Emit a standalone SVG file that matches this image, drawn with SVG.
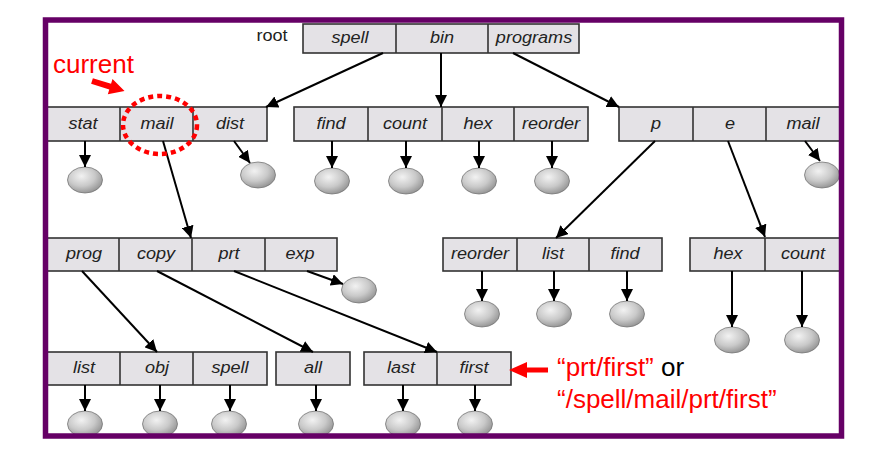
<svg xmlns="http://www.w3.org/2000/svg" width="876" height="453" viewBox="0 0 876 453">
  <defs>
    <radialGradient id="ball" cx="40%" cy="35%" r="70%">
      <stop offset="0" stop-color="#f2f2f2"/>
      <stop offset="0.55" stop-color="#c9c9c9"/>
      <stop offset="1" stop-color="#8f8f8f"/>
    </radialGradient>
    <marker id="ah" markerUnits="userSpaceOnUse" markerWidth="12" markerHeight="12" viewBox="0 0 12 12" refX="12" refY="6" orient="auto">
      <path d="M0,0 L12,6 L0,12 Z" fill="#000"/>
    </marker>
  </defs>
  <style>
    .box { fill: #e4e2e6; stroke: #333; stroke-width: 1.6; }
    .div { stroke: #333; stroke-width: 1.6; }
    .lbl { font-family: "Liberation Sans", Arial, sans-serif; font-size: 16px; font-style: italic; fill: #222; text-anchor: middle; }
    .root { font-family: "Liberation Sans", Arial, sans-serif; font-size: 16px; fill: #222; text-anchor: middle; }
    .file { fill: url(#ball); stroke: #777; stroke-width: 0.8; }
    .edge { stroke: #000; stroke-width: 2; fill: none; marker-end: url(#ah); }
    .note { font-family: "Liberation Sans", Arial, sans-serif; font-size: 26px; fill: #ff0000; }
  </style>

  <rect x="0" y="0" width="876" height="453" fill="#fff"/>

  <!-- root directory -->
  <g id="root">
    <text class="root" transform="translate(272,41) scale(1.13,1)">root</text>
    <rect class="box" x="303" y="24" width="276" height="29"/>
    <line class="div" x1="396" y1="24" x2="396" y2="53"/>
    <line class="div" x1="488" y1="24" x2="488" y2="53"/>
    <text class="lbl" transform="translate(350,43) scale(1.13,1)">spell</text>
    <text class="lbl" transform="translate(442,43) scale(1.13,1)">bin</text>
    <text class="lbl" transform="translate(534,43) scale(1.13,1)">programs</text>
  </g>

  <!-- /spell -->
  <g id="dir-spell">
    <rect class="box" x="46" y="107" width="221" height="34"/>
    <line class="div" x1="120" y1="107" x2="120" y2="141"/>
    <line class="div" x1="193" y1="107" x2="193" y2="141"/>
    <text class="lbl" transform="translate(83,129) scale(1.13,1)">stat</text>
    <text class="lbl" transform="translate(157,129) scale(1.13,1)">mail</text>
    <text class="lbl" transform="translate(230,129) scale(1.13,1)">dist</text>
  </g>

  <!-- /bin -->
  <g id="dir-bin">
    <rect class="box" x="294" y="107" width="294" height="34"/>
    <line class="div" x1="368" y1="107" x2="368" y2="141"/>
    <line class="div" x1="442" y1="107" x2="442" y2="141"/>
    <line class="div" x1="514" y1="107" x2="514" y2="141"/>
    <text class="lbl" transform="translate(331,129) scale(1.13,1)">find</text>
    <text class="lbl" transform="translate(405,129) scale(1.13,1)">count</text>
    <text class="lbl" transform="translate(478,129) scale(1.13,1)">hex</text>
    <text class="lbl" transform="translate(551,129) scale(1.13,1)">reorder</text>
  </g>

  <!-- /programs -->
  <g id="dir-programs">
    <rect class="box" x="619" y="107" width="223" height="34"/>
    <line class="div" x1="693" y1="107" x2="693" y2="141"/>
    <line class="div" x1="766" y1="107" x2="766" y2="141"/>
    <text class="lbl" transform="translate(656,129) scale(1.13,1)">p</text>
    <text class="lbl" transform="translate(730,129) scale(1.13,1)">e</text>
    <text class="lbl" transform="translate(803,129) scale(1.13,1)">mail</text>
  </g>

  <!-- /spell/mail -->
  <g id="dir-mail">
    <rect class="box" x="47" y="238" width="290" height="33"/>
    <line class="div" x1="119" y1="238" x2="119" y2="271"/>
    <line class="div" x1="192" y1="238" x2="192" y2="271"/>
    <line class="div" x1="265" y1="238" x2="265" y2="271"/>
    <text class="lbl" transform="translate(84,259) scale(1.13,1)">prog</text>
    <text class="lbl" transform="translate(156,259) scale(1.13,1)">copy</text>
    <text class="lbl" transform="translate(229,259) scale(1.13,1)">prt</text>
    <text class="lbl" transform="translate(300,259) scale(1.13,1)">exp</text>
  </g>

  <!-- /programs/p -->
  <g id="dir-p">
    <rect class="box" x="443" y="238" width="219" height="33"/>
    <line class="div" x1="517" y1="238" x2="517" y2="271"/>
    <line class="div" x1="589" y1="238" x2="589" y2="271"/>
    <text class="lbl" transform="translate(480,259) scale(1.13,1)">reorder</text>
    <text class="lbl" transform="translate(553,259) scale(1.13,1)">list</text>
    <text class="lbl" transform="translate(625,259) scale(1.13,1)">find</text>
  </g>

  <!-- /programs/e -->
  <g id="dir-e">
    <rect class="box" x="690" y="238" width="152" height="33"/>
    <line class="div" x1="765" y1="238" x2="765" y2="271"/>
    <text class="lbl" transform="translate(728,259) scale(1.13,1)">hex</text>
    <text class="lbl" transform="translate(803,259) scale(1.13,1)">count</text>
  </g>

  <!-- /spell/mail/prog -->
  <g id="dir-prog">
    <rect class="box" x="47" y="352" width="220" height="33"/>
    <line class="div" x1="120" y1="352" x2="120" y2="385"/>
    <line class="div" x1="193" y1="352" x2="193" y2="385"/>
    <text class="lbl" transform="translate(84,373) scale(1.13,1)">list</text>
    <text class="lbl" transform="translate(157,373) scale(1.13,1)">obj</text>
    <text class="lbl" transform="translate(230,373) scale(1.13,1)">spell</text>
  </g>

  <!-- /spell/mail/copy -->
  <g id="dir-copy">
    <rect class="box" x="276" y="352" width="74" height="33"/>
    <text class="lbl" transform="translate(313,373) scale(1.13,1)">all</text>
  </g>

  <!-- /spell/mail/prt -->
  <g id="dir-prt">
    <rect class="box" x="364" y="352" width="147" height="33"/>
    <line class="div" x1="437" y1="352" x2="437" y2="385"/>
    <text class="lbl" transform="translate(401,373) scale(1.13,1)">last</text>
    <text class="lbl" transform="translate(474,373) scale(1.13,1)">first</text>
  </g>

  <!-- plain files -->
  <g id="files">
    <ellipse class="file" cx="85" cy="180" rx="17.5" ry="13"/>
    <ellipse class="file" cx="258" cy="175" rx="17.5" ry="13"/>
    <ellipse class="file" cx="332" cy="181" rx="17.5" ry="13"/>
    <ellipse class="file" cx="406" cy="181" rx="17.5" ry="13"/>
    <ellipse class="file" cx="479" cy="181" rx="17.5" ry="13"/>
    <ellipse class="file" cx="552" cy="181" rx="17.5" ry="13"/>
    <ellipse class="file" cx="822" cy="175" rx="17.5" ry="13"/>
    <ellipse class="file" cx="359" cy="290" rx="17.5" ry="13"/>
    <ellipse class="file" cx="482" cy="314" rx="17.5" ry="13"/>
    <ellipse class="file" cx="554" cy="314" rx="17.5" ry="13"/>
    <ellipse class="file" cx="627" cy="314" rx="17.5" ry="13"/>
    <ellipse class="file" cx="732" cy="340" rx="17.5" ry="13"/>
    <ellipse class="file" cx="802" cy="340" rx="17.5" ry="13"/>
    <ellipse class="file" cx="85" cy="424" rx="17.5" ry="13"/>
    <ellipse class="file" cx="160" cy="424" rx="17.5" ry="13"/>
    <ellipse class="file" cx="229" cy="424" rx="17.5" ry="13"/>
    <ellipse class="file" cx="316" cy="424" rx="17.5" ry="13"/>
    <ellipse class="file" cx="403" cy="424" rx="17.5" ry="13"/>
    <ellipse class="file" cx="475" cy="424" rx="17.5" ry="13"/>
  </g>

  <!-- connectors -->
  <g id="connectors">
    <line class="edge" x1="383" y1="53" x2="266" y2="107"/>
    <line class="edge" x1="441" y1="53" x2="441" y2="107"/>
    <line class="edge" x1="513" y1="53" x2="619" y2="107"/>
    <line class="edge" x1="85" y1="141" x2="85" y2="167"/>
    <line class="edge" x1="234" y1="141" x2="250" y2="163"/>
    <line class="edge" x1="332" y1="141" x2="332" y2="168"/>
    <line class="edge" x1="406" y1="141" x2="406" y2="168"/>
    <line class="edge" x1="479" y1="141" x2="479" y2="168"/>
    <line class="edge" x1="552" y1="141" x2="552" y2="168"/>
    <line class="edge" x1="805" y1="141" x2="820" y2="161"/>
    <line class="edge" x1="163" y1="141" x2="191" y2="238"/>
    <line class="edge" x1="655" y1="141" x2="556" y2="238"/>
    <line class="edge" x1="728" y1="141" x2="765" y2="237"/>
    <line class="edge" x1="307" y1="271" x2="343" y2="284"/>
    <line class="edge" x1="482" y1="271" x2="482" y2="301"/>
    <line class="edge" x1="554" y1="271" x2="554" y2="301"/>
    <line class="edge" x1="627" y1="271" x2="627" y2="301"/>
    <line class="edge" x1="732" y1="271" x2="732" y2="327"/>
    <line class="edge" x1="802" y1="271" x2="802" y2="327"/>
    <line class="edge" x1="82" y1="271" x2="157" y2="352"/>
    <line class="edge" x1="157" y1="271" x2="313" y2="352"/>
    <line class="edge" x1="234" y1="271" x2="437" y2="352"/>
    <line class="edge" x1="85" y1="385" x2="85" y2="411"/>
    <line class="edge" x1="160" y1="385" x2="160" y2="411"/>
    <line class="edge" x1="230" y1="385" x2="230" y2="411"/>
    <line class="edge" x1="316" y1="385" x2="316" y2="411"/>
    <line class="edge" x1="403" y1="385" x2="403" y2="411"/>
    <line class="edge" x1="475" y1="385" x2="475" y2="411"/>
  </g>

  <!-- current-directory annotation -->
  <g id="current">
    <text class="note" x="53" y="73">current</text>
    <polygon fill="#ff0000" transform="translate(92,81) rotate(17)" points="0,-3 19,-3 19,-8 34,0 19,8 19,3 0,3"/>
    <ellipse cx="160" cy="125" rx="37" ry="29" fill="none" stroke="#ff0000" stroke-width="4.5" stroke-dasharray="5 4"/>
  </g>

  <!-- path-name annotation -->
  <g id="pathname">
    <polygon fill="#ff0000" points="509,370 527,362 527,367.5 548,367.5 548,372.5 527,372.5 527,378"/>
    <text class="note" x="557" y="376">“prt/first”<tspan fill="#000"> or</tspan></text>
    <text class="note" x="557" y="408">“/spell/mail/prt/first”</text>
  </g>

  <!-- frame -->
  <rect x="45.5" y="20" width="796" height="416" fill="none" stroke="#660066" stroke-width="5.5"/>
</svg>
